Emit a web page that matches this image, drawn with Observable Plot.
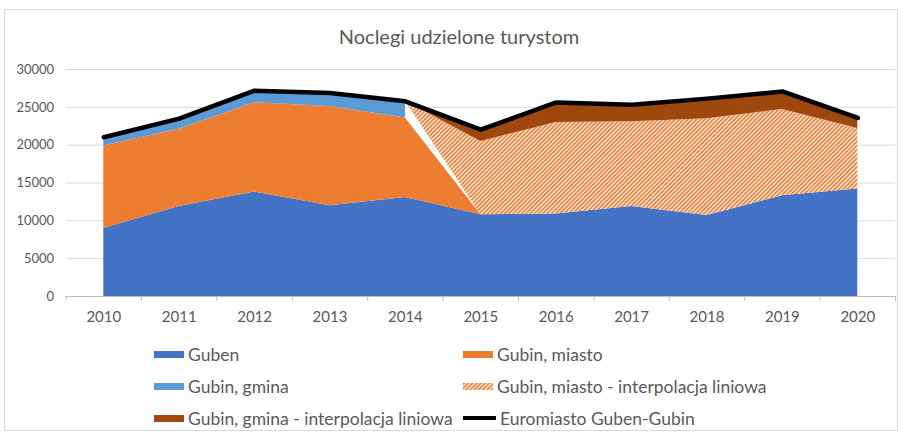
<!DOCTYPE html>
<html>
<head>
<meta charset="utf-8">
<script src="https://cdn.jsdelivr.net/npm/d3@7"></script>
<script src="https://cdn.jsdelivr.net/npm/@observablehq/plot@0.6"></script>
<style>
  html, body { margin: 0; padding: 0; background: #fff; }
  body { width: 903px; height: 437px; position: relative; overflow: hidden; font-family: Lato, "Open Sans", sans-serif; color: #595959; }
  #frame { position: absolute; left: 4px; top: 9px; width: 894px; height: 422px; border: 1px solid #D9D9D9; box-sizing: border-box; }
  #title { position: absolute; left: 0; top: 24px; width: 918px; text-align: center; font-size: 20px; color: #595959; }
  #chart { position: absolute; left: 0; top: 0; }
  .lg { position: absolute; display: flex; align-items: center; font-size: 17.5px; color: #595959; white-space: nowrap; height: 22px; }
  .lg svg { margin-right: 4px; display: block; }
</style>
</head>
<body>
<svg width="0" height="0" style="position:absolute">
  <defs>
    <pattern id="hatch" width="3" height="3" patternUnits="userSpaceOnUse" patternTransform="rotate(45)">
      <rect width="3" height="3" fill="#ffffff"></rect>
      <rect width="1.8" height="3" fill="#ED7D31"></rect>
    </pattern>
  </defs>
</svg>
<div id="frame"></div>
<div id="title">Noclegi udzielone turystom</div>
<div id="chart"></div>
<div id="legend"></div>
<script>
const years = [2010, 2011, 2012, 2013, 2014, 2015, 2016, 2017, 2018, 2019, 2020];
const guben = [9000, 11900, 13800, 12000, 13100, 10800, 10900, 11900, 10700, 13300, 14200];
const gubinMiasto = [10900, 10200, 11800, 13100, 10500, 0, null, null, null, null, null];
const gubinGmina = [1150, 1400, 1600, 1800, 2200, null, null, null, null, null, null];
const gubinMiastoInterp = [null, null, null, null, 0, 9700, 12100, 11200, 12800, 11400, 8000];
const gubinGminaInterp = [null, null, null, null, 0, 1550, 2650, 2250, 2650, 2400, 1400];
const yTicks = [0, 5000, 10000, 15000, 20000, 25000, 30000];

const seriesNames = ["Guben", "Gubin, miasto", "Gubin, gmina", "Gubin, miasto - interpolacja liniowa", "Gubin, gmina - interpolacja liniowa", "Euromiasto Guben-Gubin"];
const colors = ["#4472C4", "#ED7D31", "#5B9BD5", "url(#hatch)", "#9E480E", "#000000"];

const v = (a, i) => (a[i] == null ? 0 : a[i]);
const layers = [guben, gubinMiasto, gubinGmina, gubinMiastoInterp, gubinGminaInterp];
const bands = layers.map((arr, k) =>
  years.map((year, i) => {
    if (arr[i] == null) return null;
    let lo = 0;
    for (let j = 0; j < k; j++) lo += v(layers[j], i);
    return { year, lo, hi: lo + arr[i] };
  }).filter(d => d)
);
const total = years.map((year, i) => ({ year, value: layers.reduce((s, a) => s + v(a, i), 0) }));

const boundaries = d3.range(2009.5, 2021, 1);

const plot = Plot.plot({
  width: 903,
  height: 330,
  marginLeft: 65.6,
  marginRight: 8,
  marginTop: 69,
  marginBottom: 34,
  style: { background: "transparent", fontFamily: "Lato, sans-serif", fontSize: "14px", color: "#595959", overflow: "visible" },
  x: { domain: [2009.5, 2020.5] },
  y: { domain: [0, 30000] },
  marks: [
    Plot.gridY(yTicks, { stroke: "#D9D9D9", strokeOpacity: 1, strokeWidth: 1 }),
    ...bands.map((b, k) => Plot.areaY(b, { x: "year", y1: "lo", y2: "hi", fill: colors[k], fillOpacity: 1 })),
    Plot.ruleY([0], { stroke: "#BFBFBF", strokeWidth: 1 }),
    Plot.axisX({ ticks: boundaries, tickFormat: () => "", tickSize: 5, stroke: "#BFBFBF", strokeOpacity: 1 }),
    Plot.axisX({ ticks: years, tickFormat: d => String(d), tickSize: 0, tickPadding: 15, fill: "#595959", fontSize: 15 }),
    Plot.axisY({ ticks: yTicks, tickFormat: d => String(d), tickSize: 0, tickPadding: 12, fill: "#595959", fontSize: 13, label: null }),
    Plot.line(total, { x: "year", y: "value", stroke: "#000", strokeWidth: 4.5, strokeLinejoin: "round", strokeLinecap: "round" })
  ]
});
plot.querySelectorAll("[aria-label='x-axis label'], [aria-label='y-axis label']").forEach(n => n.remove());
document.getElementById("chart").appendChild(plot);

// Legend
const legendPos = [
  [154, 354], [463, 354],
  [154, 386], [463, 386],
  [154, 418], [463, 418]
];
const legend = document.getElementById("legend");
seriesNames.forEach((name, k) => {
  const div = document.createElement("div");
  div.className = "lg";
  div.style.left = legendPos[k][0] + "px";
  div.style.top = (legendPos[k][1] - 11) + "px";
  let sw;
  if (k === 5) {
    sw = `<svg width="33" height="8"><line x1="1" y1="4" x2="32" y2="4" stroke="#000" stroke-width="4" stroke-linecap="round"/></svg>`;
  } else {
    sw = `<svg width="30" height="7"><rect width="30" height="7" fill="${colors[k]}"/></svg>`;
  }
  div.innerHTML = sw + `<span>${name}</span>`;
  legend.appendChild(div);
});
</script>
</body>
</html>
